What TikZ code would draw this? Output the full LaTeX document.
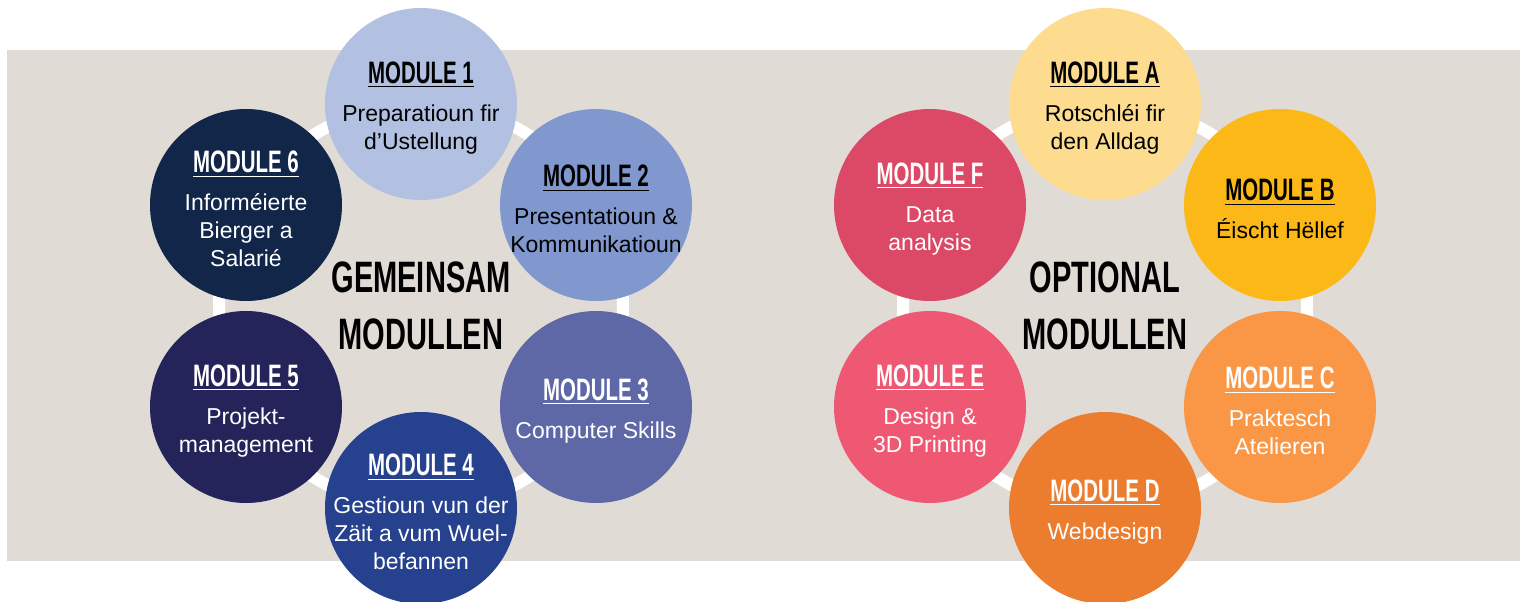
\documentclass[tikz,border=0pt]{standalone}
\usepackage{fontspec}
\setmainfont{Liberation Sans}
\newfontfamily\headfont[FakeStretch=0.66]{Liberation Sans}

\definecolor{panel}{HTML}{E1DBD5}
\definecolor{mone}{HTML}{B2C0E1}
\definecolor{mtwo}{HTML}{8098CE}
\definecolor{mthree}{HTML}{5F68A6}
\definecolor{mfour}{HTML}{26418E}
\definecolor{mfive}{HTML}{25245A}
\definecolor{msix}{HTML}{12264A}
\definecolor{ma}{HTML}{FDDC8F}
\definecolor{mb}{HTML}{FBB817}
\definecolor{mc}{HTML}{F99746}
\definecolor{md}{HTML}{EC7D2E}
\definecolor{me}{HTML}{EF5873}
\definecolor{mf}{HTML}{DC4966}

\newcommand\modhead[1]{\rule{0pt}{15pt}{\headfont\bfseries\fontsize{15.5}{20}\selectfont\underline{#1}}\\[5pt]}

\begin{document}
\begin{tikzpicture}[x=0.5pt, y=0.5pt,
    module/.style={circle, minimum size=96pt, inner sep=-20pt, align=center,
        font=\fontsize{11.5}{14}\selectfont},
    light/.style={module, text=black},
    dark/.style={module, text=white},
    ring/.style={draw=white, line width=6pt},
    hubtitle/.style={align=center, inner sep=0pt,
        font=\headfont\bfseries\fontsize{22}{28.5}\selectfont}
]
\useasboundingbox (0,0) rectangle (1523,601);
\fill[panel] (7,40) rectangle (1520,551);

% gemeinsam
\coordinate (gc) at (421,295);
\draw[ring] (gc) circle (202);
\node[hubtitle] (gt) at (gc) {GEMEINSAM\\MODULLEN};

\node[light, fill=mone] (m1) at (421,497) {\modhead{MODULE 1}Preparatioun fir\\d’Ustellung};
\node[light, fill=mtwo] (m2) at (596,396) {\modhead{MODULE 2}Presentatioun \&\\Kommunikatioun};
\node[dark, fill=mthree] (m3) at (596,194) {\modhead{MODULE 3}Computer Skills};
\node[dark, fill=mfour] (m4) at (421,93) {\modhead{MODULE 4}Gestioun vun der\\Zäit a vum Wuel-\\befannen};
\node[dark, fill=mfive] (m5) at (246,194) {\modhead{MODULE 5}Projekt-\\management};
\node[dark, fill=msix] (m6) at (246,396) {\modhead{MODULE 6}Informéierte\\Bierger a\\Salarié};

% optional
\coordinate (oc) at (1105,295);
\draw[ring] (oc) circle (202);
\node[hubtitle] (ot) at (oc) {OPTIONAL\\MODULLEN};

\node[light, fill=ma] (ma) at (1105,497) {\modhead{MODULE A}Rotschléi fir\\den Alldag};
\node[light, fill=mb] (mb) at (1280,396) {\modhead{MODULE B}Éischt Hëllef};
\node[dark, fill=mc] (mc) at (1280,194) {\modhead{MODULE C}Praktesch\\Atelieren};
\node[dark, fill=md] (md) at (1105,93) {\modhead{MODULE D}Webdesign};
\node[dark, fill=me] (me) at (930,194) {\modhead{MODULE E}Design \&\\3D Printing};
\node[dark, fill=mf] (mf) at (930,396) {\modhead{MODULE F}Data\\analysis};

\end{tikzpicture}
\end{document}
